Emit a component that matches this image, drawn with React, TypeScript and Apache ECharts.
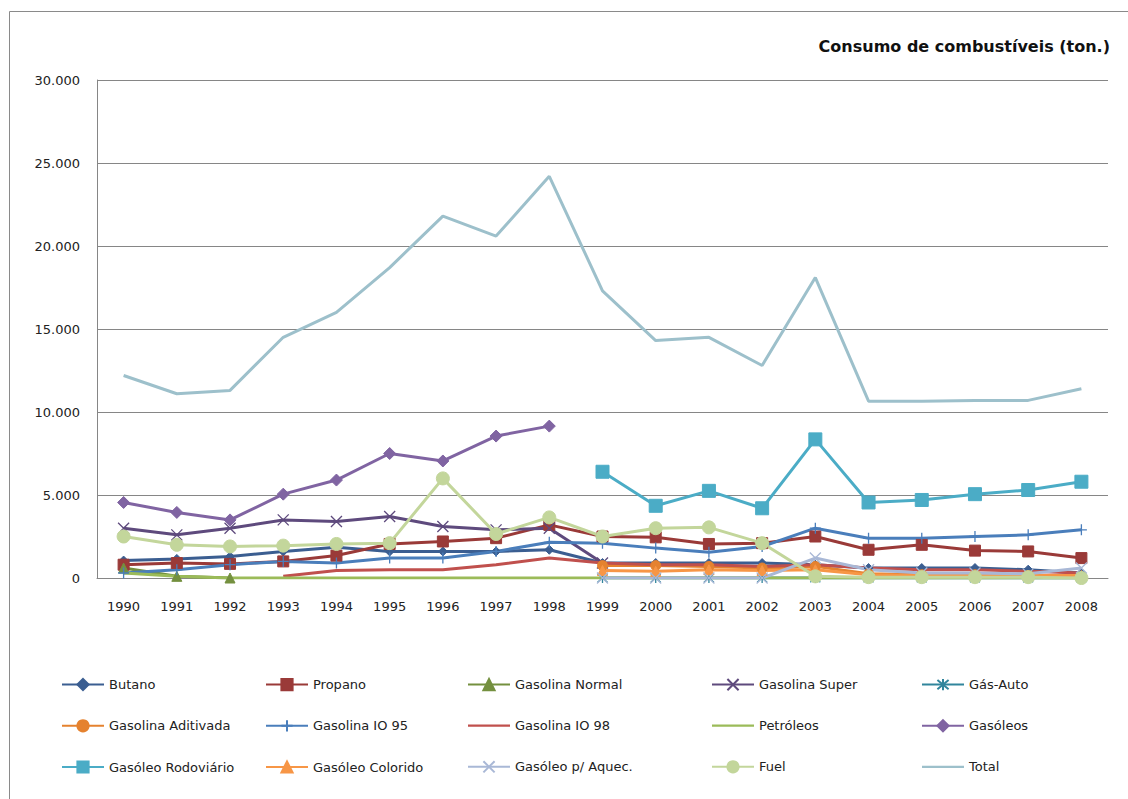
import React, { useEffect, useRef } from "react";
import * as echarts from "echarts";

const years = ["1990","1991","1992","1993","1994","1995","1996","1997","1998","1999","2000","2001","2002","2003","2004","2005","2006","2007","2008"];
const yTicks = { min: 0, max: 30000, interval: 5000 };

const butano = [1050, 1150, 1300, 1600, 1850, 1600, 1600, 1600, 1700, 900, 900, 900, 900, 800, 600, 600, 600, 500, 300];
const propano = [800, 900, 850, 1000, 1350, 2050, 2200, 2400, 3200, 2500, 2450, 2050, 2100, 2500, 1700, 2000, 1650, 1600, 1200];
const gasolinaNormal = [600, 100, 0, null, null, null, null, null, null, null, null, null, null, null, null, null, null, null, null];
const gasolinaSuper = [3000, 2600, 3000, 3500, 3400, 3700, 3100, 2900, 3000, 900, null, null, null, null, null, null, null, null, null];
const gasAuto = [null, null, null, null, null, null, null, null, null, 0, 0, 0, 0, 0, 0, 0, 0, 0, 0];
const gasolinaAditivada = [null, null, null, null, null, null, null, null, null, 750, 750, 700, 600, 700, 250, 200, 200, 150, 50];
const gasolinaIO95 = [300, 500, 800, 1000, 900, 1200, 1200, 1600, 2150, 2100, 1800, 1550, 1900, 3000, 2400, 2400, 2500, 2600, 2900];
const gasolinaIO98 = [null, null, null, 100, 450, 500, 500, 800, 1200, 900, 800, 800, 700, 800, 600, 500, 500, 400, 300];
const petroleos = [300, 100, 0, 0, 0, 0, 0, 0, 0, 0, 0, 0, 0, 0, 0, 0, 0, 0, 0];
const gasoleos = [4550, 3950, 3500, 5050, 5900, 7500, 7050, 8550, 9150, null, null, null, null, null, null, null, null, null, null];
const gasoleoRodoviario = [null, null, null, null, null, null, null, null, null, 6400, 4350, 5250, 4200, 8350, 4550, 4700, 5050, 5300, 5800];
const gasoleoColorido = [null, null, null, null, null, null, null, null, null, 450, 400, 500, 450, 500, 200, 150, 150, 150, 150];
const gasoleoAquec = [null, null, null, null, null, null, null, null, null, 0, 0, 0, 0, 1200, 500, 300, 300, 250, 600];
const fuel = [2500, 2000, 1900, 1950, 2050, 2100, 6000, 2650, 3650, 2500, 3000, 3050, 2100, 100, 50, 50, 50, 50, 0];
const total = [12200, 11100, 11300, 14500, 16000, 18700, 21800, 20600, 24200, 17300, 14300, 14500, 12800, 18100, 10650, 10650, 10700, 10700, 11400];

const X_PATH = "path://M0,0L10,10M10,0L0,10";
const STAR_PATH = "path://M0,0L10,10M10,0L0,10M5,-1L5,11";
const PLUS_PATH = "path://M5,0L5,10M0,5L10,5";
const LINE_ICON = "path://M0,0L42,0L42,2.2L0,2.2Z";

type Def = { name: string; data: (number | null)[]; color: string; symbol: string; size: number; stroke?: boolean };

const defs: Def[] = [
  { name: "Butano", data: butano, color: "#3B5E91", symbol: "diamond", size: 9 },
  { name: "Propano", data: propano, color: "#9A3A38", symbol: "rect", size: 11 },
  { name: "Gasolina Normal", data: gasolinaNormal, color: "#74903F", symbol: "triangle", size: 10 },
  { name: "Gasolina Super", data: gasolinaSuper, color: "#5E4A7D", symbol: X_PATH, size: 11, stroke: true },
  { name: "Gás-Auto", data: gasAuto, color: "#31859C", symbol: STAR_PATH, size: 10, stroke: true },
  { name: "Gasolina Aditivada", data: gasolinaAditivada, color: "#E5822F", symbol: "circle", size: 10 },
  { name: "Gasolina IO 95", data: gasolinaIO95, color: "#4A7EBB", symbol: PLUS_PATH, size: 11, stroke: true },
  { name: "Gasolina IO 98", data: gasolinaIO98, color: "#C0504D", symbol: "none", size: 0 },
  { name: "Petróleos", data: petroleos, color: "#9BBB59", symbol: "none", size: 0 },
  { name: "Gasóleos", data: gasoleos, color: "#8064A2", symbol: "diamond", size: 12 },
  { name: "Gasóleo Rodoviário", data: gasoleoRodoviario, color: "#4BACC6", symbol: "rect", size: 13 },
  { name: "Gasóleo Colorido", data: gasoleoColorido, color: "#F79646", symbol: "triangle", size: 10 },
  { name: "Gasóleo p/ Aquec.", data: gasoleoAquec, color: "#A9B8D6", symbol: X_PATH, size: 11, stroke: true },
  { name: "Fuel", data: fuel, color: "#C3D69B", symbol: "circle", size: 13 },
  { name: "Total", data: total, color: "#9DC0CB", symbol: "none", size: 0 },
];

const legendColumns = [
  ["Butano", "Gasolina Aditivada", "Gasóleo Rodoviário"],
  ["Propano", "Gasolina IO 95", "Gasóleo Colorido"],
  ["Gasolina Normal", "Gasolina IO 98", "Gasóleo p/ Aquec."],
  ["Gasolina Super", "Petróleos", "Fuel"],
  ["Gás-Auto", "Gasóleos", "Total"],
];
const legendLeft = [56, 260, 462, 706, 916];

const FONT = "DejaVu Sans";

function fmt(v: number): string {
  return String(v).replace(/\B(?=(\d{3})+(?!\d))/g, ".");
}

export default function App() {
  const ref = useRef<HTMLDivElement>(null);
  useEffect(() => {
    document.body.style.margin = "0";
    if (!ref.current) return;
    const chart = echarts.init(ref.current, null, { renderer: "svg" });
    const noMarker = new Set(defs.filter((d) => d.symbol === "none").map((d) => d.name));
    const series = defs.map((d) => ({
      name: d.name,
      type: "line",
      data: d.data,
      symbol: d.symbol,
      symbolSize: d.size,
      showSymbol: d.symbol !== "none",
      connectNulls: false,
      lineStyle: { color: d.color, width: 3 },
      itemStyle: d.stroke
        ? { color: d.color, borderColor: d.color, borderWidth: 1.3 }
        : { color: d.color, borderColor: d.color, borderWidth: 1 },
      emphasis: { disabled: true },
      z: 2,
    }));
    chart.setOption({
      animation: false,
      backgroundColor: "#ffffff",
      grid: { left: 97, right: 20, top: 80, bottom: 221, containLabel: false },
      xAxis: {
        type: "category",
        data: years,
        boundaryGap: true,
        axisLine: { show: true, lineStyle: { color: "#868686", width: 1 } },
        axisTick: { show: false },
        axisLabel: { margin: 22, color: "#222", fontFamily: FONT, fontSize: 13 },
      },
      yAxis: {
        type: "value",
        min: yTicks.min,
        max: yTicks.max,
        interval: yTicks.interval,
        axisLine: { show: true, lineStyle: { color: "#868686", width: 1 } },
        axisTick: { show: false },
        splitLine: { lineStyle: { color: "#868686", width: 1 } },
        axisLabel: { margin: 17, color: "#222", fontFamily: FONT, fontSize: 13, formatter: (v: number) => fmt(v) },
      },
      legend: legendColumns.map((names, i) => ({
        data: names.map((n) =>
          noMarker.has(n) ? { name: n, icon: LINE_ICON, itemStyle: { borderWidth: 0 } } : { name: n }
        ),
        orient: "vertical",
        left: legendLeft[i],
        top: 673,
        itemWidth: 42,
        itemHeight: 14,
        itemGap: 28,
        selectedMode: false,
        textStyle: { fontFamily: FONT, fontSize: 13, color: "#222" },
      })),
      graphic: [
        { type: "line", shape: { x1: 9.5, y1: 11.5, x2: 1128, y2: 11.5 }, style: { stroke: "#8a8a8a", lineWidth: 1 } },
        { type: "line", shape: { x1: 9.5, y1: 11.5, x2: 9.5, y2: 799 }, style: { stroke: "#8a8a8a", lineWidth: 1 } },
        {
          type: "text",
          right: 18,
          top: 38,
          style: { text: "Consumo de combustíveis (ton.)", fontFamily: FONT, fontSize: 16, fontWeight: "bold", fill: "#111" },
        },
      ],
      series,
    });
    return () => chart.dispose();
  }, []);
  return <div ref={ref} style={{ width: 1128, height: 799 }} />;
}
